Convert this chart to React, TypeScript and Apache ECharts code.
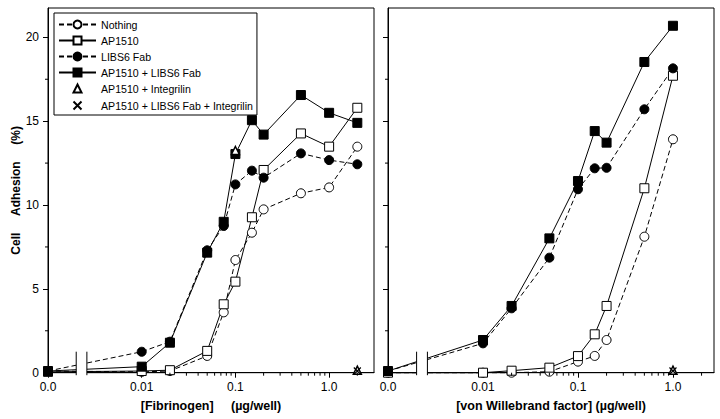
import React, { useEffect, useRef } from 'react';
import * as echarts from 'echarts';

const FONT = "'Liberation Sans', Arial, Helvetica, sans-serif";

// ---- Data (µg/well, % cell adhesion) ----
const fibConc = [0, 0.01, 0.02, 0.05, 0.075, 0.1, 0.15, 0.2, 0.5, 1.0, 2.0];
const fibNothing = [0.1, 0.05, 0.1, 1.0, 3.6, 6.72, 8.35, 9.74, 10.7, 11.05, 13.48];
const fibAP1510 = [0.05, 0.1, 0.15, 1.3, 4.08, 5.43, 9.27, 12.09, 14.27, 13.48, 15.8];
const fibLIBS6 = [0.1, 1.25, 1.85, 7.3, 8.75, 11.23, 12.05, 11.63, 13.08, 12.68, 12.43];
const fibAP1510LIBS6 = [0.1, 0.36, 1.79, 7.16, 9.0, 13.04, 15.06, 14.2, 16.56, 15.5, 14.9];
const fibIntegrilinConc = [0.1, 2.0];
const fibIntegrilin = [13.25, 0.15];
const fibTripleConc = [2.0];
const fibTriple = [0.1];

const vwfConc = [0, 0.01, 0.02, 0.05, 0.1, 0.15, 0.2, 0.5, 1.0];
const vwfNothing = [0, 0, 0, 0.06, 0.66, 1.0, 1.95, 8.11, 13.92];
const vwfAP1510 = [0, 0, 0.12, 0.3, 0.99, 2.29, 3.98, 11.0, 17.71];
const vwfLIBS6 = [0.1, 1.75, 3.84, 6.86, 10.94, 12.19, 12.22, 15.71, 18.15];
const vwfAP1510LIBS6 = [0.1, 1.95, 3.98, 8.01, 11.43, 14.41, 13.72, 18.53, 20.69];
const vwfIntegrilinConc = [1.0];
const vwfIntegrilin = [0.15];
const vwfTripleConc = [1.0];
const vwfTriple = [0.1];

const seriesNames = [
  'Nothing',
  'AP1510',
  'LIBS6 Fab',
  'AP1510 + LIBS6 Fab',
  'AP1510 + Integrilin',
  'AP1510 + LIBS6 Fab + Integrilin',
];

const xTickValues = [0, 0.01, 0.1, 1.0];
const xTickLabels = ['0.0', '0.01', '0.1', '1.0'];
const xMinorTickValues = [
  0.02, 0.03, 0.04, 0.05, 0.06, 0.07, 0.08, 0.09,
  0.2, 0.3, 0.4, 0.5, 0.6, 0.7, 0.8, 0.9,
  2,
];
const yTickValues = [0, 5, 10, 15, 20];
const yTickLabels = ['0', '5', '10', '15', '20'];
const yMinorTickValues = [2.5, 7.5, 12.5, 17.5];
const breakStart = 0.002; // axis break positions (log scale)
const breakEnd = 0.0026;

const xAxisTitles = ['[Fibrinogen]\u00a0\u00a0\u00a0\u00a0\u00a0(µg/well)', '[von Willebrand factor] (µg/well)'];
const yAxisTitle = 'Cell\u00a0\u00a0\u00a0\u00a0\u00a0Adhesion\u00a0\u00a0\u00a0\u00a0\u00a0(%)';

// ---- helpers ----
const ZERO_POS = -3; // axis position used for concentration 0 (left of the axis break)
const pos = (c: number) => (c === 0 ? ZERO_POS : Math.log10(c));

const X_PATH = 'path://M0,0L10,10M10,0L0,10';

const styles = [
  { symbol: 'circle', fill: '#fff', dashed: true, line: true, size: 9, bw: 1 },
  { symbol: 'rect', fill: '#fff', dashed: false, line: true, size: 9, bw: 1 },
  { symbol: 'circle', fill: '#000', dashed: true, line: true, size: 9, bw: 1 },
  { symbol: 'rect', fill: '#000', dashed: false, line: true, size: 9, bw: 1 },
  { symbol: 'triangle', fill: '#fff', dashed: false, line: false, size: 8, bw: 1.5 },
  { symbol: X_PATH, fill: 'none', dashed: false, line: false, size: 7, bw: 1.2 },
];

function lineSeries(idx: number, gi: number, conc: number[], vals: number[]) {
  const st = styles[idx];
  return {
    type: 'line',
    name: seriesNames[idx],
    xAxisIndex: gi,
    yAxisIndex: gi,
    data: conc.map((c, i) => [pos(c), vals[i]]),
    symbol: st.symbol,
    symbolSize: st.size,
    showSymbol: true,
    showAllSymbol: true,
    clip: false,
    itemStyle: { color: st.fill, borderColor: '#000', borderWidth: st.bw, opacity: 1 },
    lineStyle: st.line
      ? { color: '#000', width: 1, type: st.dashed ? [5, 3] : 'solid' }
      : { color: '#000', width: 0, opacity: 0 },
    emphasis: { disabled: true },
    silent: true,
    z: 3,
  };
}

function xMinorTicks(gi: number) {
  return {
    type: 'custom',
    xAxisIndex: gi,
    yAxisIndex: gi,
    clip: false,
    silent: true,
    z: 4,
    encode: { x: 0, y: 1 },
    data: xMinorTickValues.map((v) => [pos(v), 0]),
    renderItem: (_p: any, api: any) => {
      const p = api.coord([api.value(0), api.value(1)]);
      return {
        type: 'line',
        shape: { x1: p[0], y1: p[1], x2: p[0], y2: p[1] + 3 },
        style: { stroke: '#000', lineWidth: 1 },
      };
    },
  };
}

function yMinorTicks(gi: number) {
  return {
    type: 'custom',
    xAxisIndex: gi,
    yAxisIndex: gi,
    clip: false,
    silent: true,
    z: 4,
    encode: { x: 0, y: 1 },
    data: yMinorTickValues.map((v) => [ZERO_POS, v]),
    renderItem: (_p: any, api: any) => {
      const p = api.coord([api.value(0), api.value(1)]);
      return {
        type: 'line',
        shape: { x1: p[0], y1: p[1], x2: p[0] - 3, y2: p[1] },
        style: { stroke: '#000', lineWidth: 1 },
      };
    },
  };
}

function axisBreak(gi: number) {
  return {
    type: 'custom',
    xAxisIndex: gi,
    yAxisIndex: gi,
    clip: false,
    silent: true,
    z: 10,
    encode: { x: 0, y: 1 },
    data: [[Math.log10(breakStart), 0, Math.log10(breakEnd)]],
    renderItem: (_p: any, api: any) => {
      const a = api.coord([api.value(0), api.value(1)]);
      const b = api.coord([api.value(2), api.value(1)]);
      return {
        type: 'group',
        children: [
          {
            type: 'rect',
            shape: { x: a[0], y: a[1] - 23, width: b[0] - a[0], height: 26 },
            style: { fill: '#fff' },
          },
          {
            type: 'line',
            shape: { x1: a[0], y1: a[1] - 21, x2: a[0], y2: a[1] + 2.5 },
            style: { stroke: '#000', lineWidth: 1 },
          },
          {
            type: 'line',
            shape: { x1: b[0], y1: a[1] - 21, x2: b[0], y2: a[1] + 2.5 },
            style: { stroke: '#000', lineWidth: 1 },
          },
        ],
      };
    },
  };
}

const labelFor = (values: number[], labels: string[]) => (v: number) => {
  const i = values.findIndex((t) => Math.abs(t - v) < 1e-6);
  return i >= 0 ? labels[i] : '';
};

function xAxis(gi: number, max: number) {
  const tv = xTickValues.map(pos);
  return {
    type: 'value',
    gridIndex: gi,
    min: ZERO_POS,
    max,
    axisLine: { show: true, onZero: false, lineStyle: { color: '#000', width: 1 } },
    axisTick: { show: true, length: 5, customValues: tv, lineStyle: { color: '#000', width: 1 } },
    axisLabel: {
      show: true,
      customValues: tv,
      formatter: labelFor(tv, xTickLabels),
      color: '#000',
      fontSize: 12,
      fontFamily: FONT,
      margin: 8,
    },
    splitLine: { show: false },
    name: xAxisTitles[gi],
    nameLocation: 'middle',
    nameGap: 27,
    nameTextStyle: { fontSize: 12.5, fontWeight: 'bold', color: '#000', fontFamily: FONT },
  };
}

function yAxis(gi: number) {
  return {
    type: 'value',
    gridIndex: gi,
    min: 0,
    max: 21.75,
    axisLine: { show: true, onZero: false, lineStyle: { color: '#000', width: 1 } },
    axisTick: { show: true, length: 5, customValues: yTickValues, lineStyle: { color: '#000', width: 1 } },
    axisLabel: {
      show: gi === 0,
      customValues: yTickValues,
      formatter: labelFor(yTickValues, yTickLabels),
      color: '#000',
      fontSize: 12,
      fontFamily: FONT,
      margin: 9,
    },
    splitLine: { show: false },
    name: gi === 0 ? yAxisTitle : '',
    nameLocation: 'middle',
    nameRotate: 90,
    nameGap: 19,
    nameTextStyle: { fontSize: 12, fontWeight: 'bold', color: '#000', fontFamily: FONT },
  };
}

export default function App() {
  const ref = useRef<HTMLDivElement>(null);

  useEffect(() => {
    document.body.style.margin = '0';
    if (!ref.current) return;
    const chart = echarts.init(ref.current, undefined, { renderer: 'svg' });
    chart.setOption({
      animation: false,
      backgroundColor: '#fff',
      textStyle: { fontFamily: FONT },
      grid: [
        { left: 48, top: 8, width: 326, bottom: 46.3, show: true, borderColor: '#000', borderWidth: 1 },
        { left: 388, top: 8, width: 326, bottom: 46.3, show: true, borderColor: '#000', borderWidth: 1 },
      ],
      xAxis: [xAxis(0, 0.479), xAxis(1, 0.432)],
      yAxis: [yAxis(0), yAxis(1)],
      legend: {
        data: seriesNames,
        orient: 'vertical',
        left: 54,
        top: 13,
        itemWidth: 37,
        itemHeight: 10,
        itemGap: 5,
        padding: [6, 4, 3, 4],
        borderColor: '#000',
        borderWidth: 1,
        borderRadius: 0,
        backgroundColor: '#fff',
        selectedMode: false,
        textStyle: { fontSize: 10.6, color: '#000', fontFamily: FONT },
      },
      series: [
        lineSeries(0, 0, fibConc, fibNothing),
        lineSeries(1, 0, fibConc, fibAP1510),
        lineSeries(2, 0, fibConc, fibLIBS6),
        lineSeries(3, 0, fibConc, fibAP1510LIBS6),
        lineSeries(4, 0, fibIntegrilinConc, fibIntegrilin),
        lineSeries(5, 0, fibTripleConc, fibTriple),
        lineSeries(0, 1, vwfConc, vwfNothing),
        lineSeries(1, 1, vwfConc, vwfAP1510),
        lineSeries(2, 1, vwfConc, vwfLIBS6),
        lineSeries(3, 1, vwfConc, vwfAP1510LIBS6),
        lineSeries(4, 1, vwfIntegrilinConc, vwfIntegrilin),
        lineSeries(5, 1, vwfTripleConc, vwfTriple),
        xMinorTicks(0),
        xMinorTicks(1),
        yMinorTicks(0),
        yMinorTicks(1),
        axisBreak(0),
        axisBreak(1),
      ],
    });
    return () => chart.dispose();
  }, []);

  return <div ref={ref} style={{ width: 720, height: 419 }} />;
}
